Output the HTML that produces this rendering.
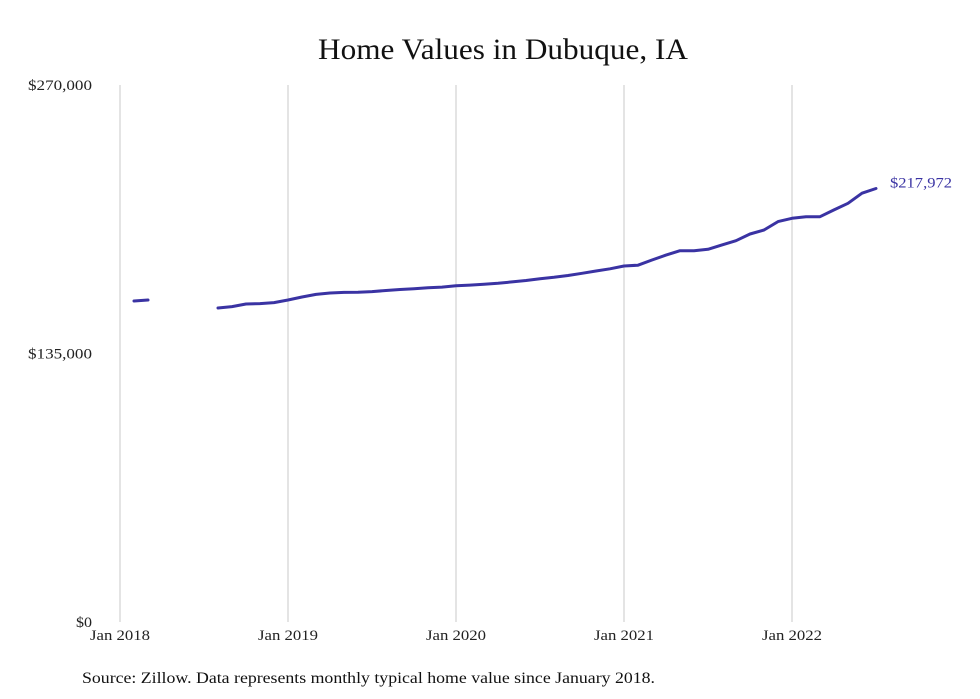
<!DOCTYPE html>
<html><head><meta charset="utf-8"><style>
body{margin:0;background:#fff;}
svg{display:block;font-family:"Liberation Serif",serif;}
</style></head><body>
<svg id="chart" width="980" height="699">
<text x="318" y="59" textLength="370" lengthAdjust="spacingAndGlyphs" font-size="30" fill="#111">Home Values in Dubuque, IA</text>
<g id="grid"></g><g id="yax"></g><g id="xax"></g><g id="series"></g>
<text x="82" y="683" textLength="573" lengthAdjust="spacingAndGlyphs" font-size="15.5" fill="#111">Source: Zillow. Data represents monthly typical home value since January 2018.</text>
</svg>
<script>
const yTicks=[0,135000,270000];
const yTickLabels=["$0","$135,000","$270,000"];
const xTickYears=[2018,2019,2020,2021,2022];
const xTickLabels=["Jan 2018","Jan 2019","Jan 2020","Jan 2021","Jan 2022"];
// monthly values starting Jan 2018 (thousands), null = missing
const values=[null,161.4,161.9,null,null,null,null,157.9,158.6,159.9,160.1,160.6,
161.9,163.4,164.7,165.4,165.7,165.8,166.1,166.7,167.2,167.6,168.1,168.4,
169.1,169.4,169.8,170.3,171.0,171.7,172.6,173.3,174.2,175.3,176.5,177.6,
179.0,179.4,182.0,184.5,186.7,186.7,187.4,189.6,191.7,195.1,197.1,201.3,
203.0,203.8,203.8,207.2,210.5,215.6,217.972];
const lastLabel="$217,972";

const NS="http://www.w3.org/2000/svg";
const x0=120,pxPerMonth=14,yTop=85,yBot=622,yMax=270000;
const xs=m=>x0+m*pxPerMonth;
const ys=v=>yBot-v/yMax*(yBot-yTop);
function mk(t,a,p){const e=document.createElementNS(NS,t);for(const k in a)e.setAttribute(k,a[k]);p.appendChild(e);return e;}
const grid=document.getElementById('grid'),yax=document.getElementById('yax'),xax=document.getElementById('xax'),ser=document.getElementById('series');
xTickYears.forEach((yr,i)=>{
 const x=xs((yr-2018)*12);
 const l=mk('line',{x1:x,x2:x,y1:yTop,y2:yBot,stroke:'#c8c8c8','stroke-width':1},grid);
 
 
 const t=mk('text',{x:x-30,y:640,textLength:60,lengthAdjust:'spacingAndGlyphs','font-size':15,fill:'#222'},xax);
 t.textContent=xTickLabels[i];
 
 
});
yTicks.forEach((v,i)=>{
 const w=yTickLabels[i].length*8;
 const t=mk('text',{x:92-w,y:ys(v)+5,textLength:w,lengthAdjust:'spacingAndGlyphs','font-size':15,fill:'#222'},yax);
 t.textContent=yTickLabels[i];
 
 
});
let d='',pen=false,last=null;
values.forEach((v,i)=>{
 if(v==null){pen=false;return;}
 const x=xs(i),y=ys(v*1000);
 d+=(pen?'L':'M')+x.toFixed(1)+' '+y.toFixed(1)+' ';pen=true;last=[x,y];
});
const p=mk('path',{d:d,fill:'none',stroke:'#3a33a3','stroke-width':3,'stroke-linejoin':'round','stroke-linecap':'round'},ser);


const lt=mk('text',{x:last[0]+14,y:last[1]-1,textLength:62,lengthAdjust:'spacingAndGlyphs','font-size':15,fill:'#3a33a3'},ser);
lt.textContent=lastLabel;


</script>
</body></html>
